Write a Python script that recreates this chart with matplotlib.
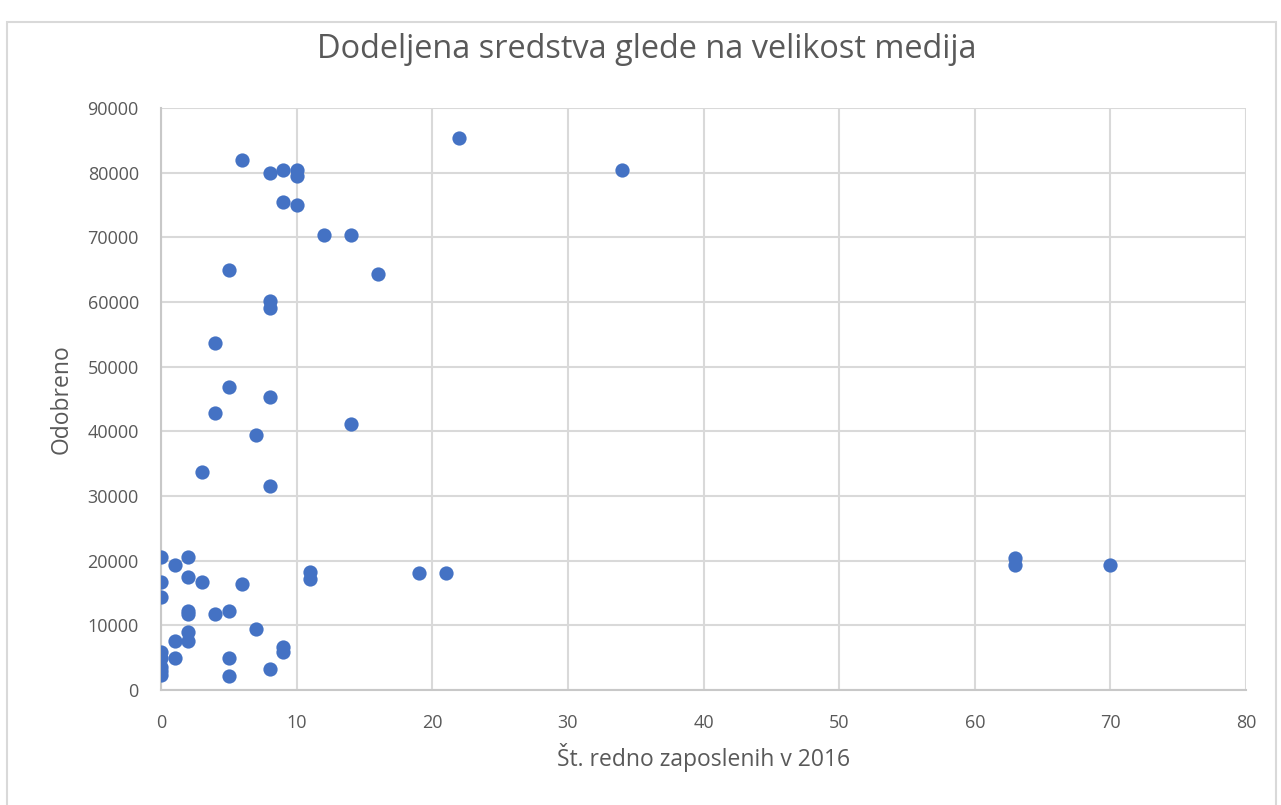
import matplotlib.pyplot as plt
from matplotlib.patches import Rectangle

plt.rcParams['font.family'] = ['Open Sans', 'DejaVu Sans']

# employees in 2016 (x) and approved funds (y)
zaposleni = [0, 0, 0, 0, 0, 0, 0, 0,
             1, 1, 1,
             2, 2, 2, 2, 2, 2,
             3, 3,
             4, 4, 4,
             5, 5, 5, 5, 5,
             6, 6,
             7, 7,
             8, 8, 8, 8, 8, 8,
             9, 9, 9, 9,
             10, 10, 10,
             11, 11,
             12, 14, 14, 16, 19, 21, 22, 34, 63, 63, 70]
odobreno = [20500, 16700, 14400, 5800, 5000, 3600, 3000, 2300,
            19300, 7600, 4900,
            20500, 17500, 12200, 11800, 9000, 7600,
            16700, 33700,
            11800, 42800, 53600,
            12200, 4900, 2200, 46800, 65000,
            16400, 81900,
            9400, 39400,
            3300, 31500, 45300, 60100, 59000, 79900,
            6600, 5900, 75400, 80400,
            80400, 79500, 75000,
            18200, 17100,
            70300, 70300, 41100, 64300, 18100, 18100, 85300, 80400,
            20400, 19300, 19300]

fig = plt.figure(figsize=(12.81, 8.05), dpi=100)
ax = fig.add_axes([0.1257, 0.1429, 0.8470, 0.7229])

# chart area frame
fig.patches.append(Rectangle((7 / 1281, -0.01), 1269 / 1281, 1.0 - 22 / 805 + 0.01,
                             transform=fig.transFigure, fill=False,
                             edgecolor='#d9d9d9', linewidth=1.5))

ax.scatter(zaposleni, odobreno, s=105, color='#4472C4', zorder=3, linewidths=0)

ax.set_xlim(0, 80)
ax.set_ylim(0, 90000)
ax.set_xticks(range(0, 81, 10))
ax.set_yticks(range(0, 90001, 10000))
ax.grid(True, color='#d9d9d9', linewidth=1.5)
ax.set_axisbelow(True)
for side in ['top', 'right']:
    ax.spines[side].set_visible(False)
for side in ['left', 'bottom']:
    ax.spines[side].set_color('#c8c8c8')
    ax.spines[side].set_linewidth(1.5)
ax.tick_params(length=0, labelsize=13, labelcolor='#595959')
ax.tick_params(axis='x', pad=17)
ax.tick_params(axis='y', pad=16)

fig.text(0.505, 1 - 50 / 805, 'Dodeljena sredstva glede na velikost medija',
         fontsize=23.4, color='#595959', ha='center', va='center')
ax.set_xlabel('Št. redno zaposlenih v 2016', fontsize=16.5, color='#595959', labelpad=8)
ax.set_ylabel('Odobreno', fontsize=16.5, color='#595959', labelpad=10)

fig.savefig('out.png', dpi=100)
